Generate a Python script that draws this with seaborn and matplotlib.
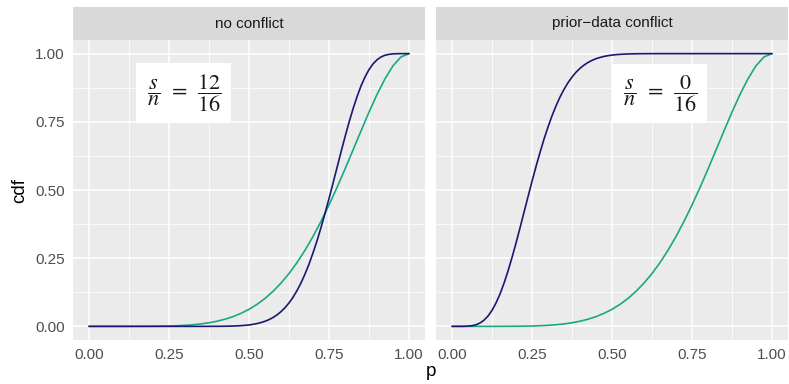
import numpy as np
import pandas as pd
import matplotlib
matplotlib.use("Agg")
import matplotlib.pyplot as plt
import seaborn as sns

# ---------------- data ----------------
# sampling positions along p
p_prior = np.linspace(0.0, 1.0, 41)    # every 0.025
p_post = np.linspace(0.0, 1.0, 81)     # every 0.0125

# prior cdf (green), same in both panels
prior_no_conflict = [0, 0, 0, 0, 0, 0, 0.0001, 0.0002, 0.0004, 0.0007,
                     0.0013, 0.0023, 0.0038, 0.0060, 0.0090, 0.0132, 0.0188, 0.0262, 0.0357, 0.0477,
                     0.0625, 0.0806, 0.1024, 0.1283, 0.1586, 0.1937, 0.2338, 0.2790, 0.3294, 0.3848,
                     0.4449, 0.5092, 0.5767, 0.6464, 0.7166, 0.7854, 0.8503, 0.9077, 0.9556, 0.9880,
                     1.0]
prior_conflict = [0, 0, 0, 0, 0, 0, 0.0001, 0.0002, 0.0004, 0.0007,
                  0.0013, 0.0023, 0.0038, 0.0060, 0.0090, 0.0132, 0.0188, 0.0262, 0.0357, 0.0477,
                  0.0625, 0.0806, 0.1024, 0.1283, 0.1586, 0.1937, 0.2338, 0.2790, 0.3294, 0.3848,
                  0.4449, 0.5092, 0.5767, 0.6464, 0.7166, 0.7854, 0.8503, 0.9077, 0.9556, 0.9880,
                  1.0]
# posterior cdf (navy)
post_no_conflict = [0] * 30 + [
    0.0001, 0.0001, 0.0002, 0.0003, 0.0005, 0.0008, 0.0012, 0.0018, 0.0026, 0.0038,
    0.0053, 0.0075, 0.0102, 0.0140, 0.0186, 0.0247, 0.0323, 0.0421, 0.0539, 0.0684,
    0.0859, 0.1066, 0.1311, 0.1592, 0.1917, 0.2280, 0.2691, 0.3135, 0.3625, 0.4140,
    0.4685, 0.5248, 0.5818, 0.6391, 0.6947, 0.7478, 0.7971, 0.8419, 0.8814, 0.9143,
    0.9414, 0.9622, 0.9774, 0.9877, 0.9942, 0.9974, 0.9992, 0.9998, 1.0, 1.0,
    1.0]
post_conflict = [
    0.0, 0.0, 0.0, 0.0002, 0.0008, 0.0026, 0.0058, 0.0123, 0.0226, 0.0378,
    0.0586, 0.0857, 0.1186, 0.1581, 0.2029, 0.2522, 0.3053, 0.3609, 0.4182, 0.4752,
    0.5315, 0.5860, 0.6375, 0.6865, 0.7309, 0.7720, 0.8083, 0.8408, 0.8689, 0.8934,
    0.9141, 0.9316, 0.9461, 0.9579, 0.9677, 0.9753, 0.9814, 0.9860, 0.9898, 0.9925,
    0.9947, 0.9962, 0.9974, 0.9982, 0.9988, 0.9992, 0.9995, 0.9997, 0.9998, 0.9999] + [1.0] * 31

panels = ["no conflict", "prior\u2212data conflict"]
ratio_labels = [r"$\,\dfrac{s}{n}\;\,=\;\,\dfrac{12}{16}\,$", r"$\,\dfrac{s}{n}\;\,=\;\,\dfrac{0}{16}\,$"]
x_ticks = [0.00, 0.25, 0.50, 0.75, 1.00]
y_ticks = [0.00, 0.25, 0.50, 0.75, 1.00]
x_tick_labels = ["0.00", "0.25", "0.50", "0.75", "1.00"]
y_tick_labels = ["0.00", "0.25", "0.50", "0.75", "1.00"]

rows = []
for panel, prior, post in [(panels[0], prior_no_conflict, post_no_conflict),
                           (panels[1], prior_conflict, post_conflict)]:
    for pv, a in zip(p_prior, prior):
        rows.append((panel, "prior", pv, a))
    for pv, b in zip(p_post, post):
        rows.append((panel, "posterior", pv, b))
df = pd.DataFrame(rows, columns=["panel", "curve", "p", "cdf"])

# ---------------- styling ----------------
sns.set_theme(style="darkgrid")
plt.rcParams["font.family"] = ["Liberation Sans", "DejaVu Sans"]
plt.rcParams["mathtext.fontset"] = "stix"

GREEN = "#1AA884"
NAVY = "#191970"
palette = {"prior": GREEN, "posterior": NAVY}

W, H = 789, 384
fig = plt.figure(figsize=(W / 100, H / 100), dpi=100)
fig.patch.set_facecolor("white")

panel_left = [73, 436]
panel_w = 352
panel_top, panel_bottom = 40, 340
strip_top = 7
text_positions = [(0.295, 0.855), (0.649, 0.855)]

for i, panel in enumerate(panels):
    ax = fig.add_axes([panel_left[i] / W, (H - panel_bottom) / H,
                       panel_w / W, (panel_bottom - panel_top) / H])
    sub = df[df["panel"] == panel]
    sns.lineplot(data=sub, x="p", y="cdf", hue="curve", hue_order=["prior", "posterior"],
                 palette=palette, ax=ax, linewidth=1.2, legend=False, sort=False,
                 estimator=None)
    ax.set_facecolor("#EBEBEB")
    ax.set_xlim(-0.05, 1.05)
    ax.set_ylim(-0.05, 1.05)
    ax.set_xticks(x_ticks)
    ax.set_xticklabels(x_tick_labels)
    ax.set_yticks(y_ticks)
    if i == 0:
        ax.set_yticklabels(y_tick_labels)
    else:
        ax.set_yticklabels([])
    ax.set_xticks([0.125, 0.375, 0.625, 0.875], minor=True)
    ax.set_yticks([0.125, 0.375, 0.625, 0.875], minor=True)
    ax.grid(which="major", color="white", linewidth=1.1)
    ax.grid(which="minor", color="white", linewidth=0.55)
    ax.set_axisbelow(True)
    for s in ax.spines.values():
        s.set_visible(False)
    ax.tick_params(axis="both", which="major", colors="#333333", length=3.5, width=1.0,
                   labelcolor="#4D4D4D", labelsize=11, pad=2.5)
    if i == 1:
        ax.tick_params(axis="y", length=0)
    ax.tick_params(which="minor", length=0)
    ax.set_xlabel("")
    ax.set_ylabel("")
    tx, ty = text_positions[i]
    ax.text(tx, ty, ratio_labels[i], fontsize=16, ha="center", va="center", color="#1A1A1A",
            bbox=dict(facecolor="white", edgecolor="none", boxstyle="square,pad=0.4"))

    # strip
    sax = fig.add_axes([panel_left[i] / W, (H - panel_top) / H,
                        panel_w / W, (panel_top - strip_top) / H])
    sax.set_facecolor("#D9D9D9")
    sax.grid(False)
    sax.set_xticks([])
    sax.set_yticks([])
    for s in sax.spines.values():
        s.set_visible(False)
    sax.text(0.5, 0.5, panel, ha="center", va="center", fontsize=11, color="#1A1A1A",
             transform=sax.transAxes)

fig.text((73 + 788) / 2 / W, 1 - 372 / H, "p", ha="center", va="center", fontsize=13.5,
         color="black")
fig.text(20 / W, 1 - 190 / H, "cdf", ha="center", va="center", rotation=90, fontsize=13.5,
         color="black")

fig.savefig("out.png", dpi=100, facecolor="white")
